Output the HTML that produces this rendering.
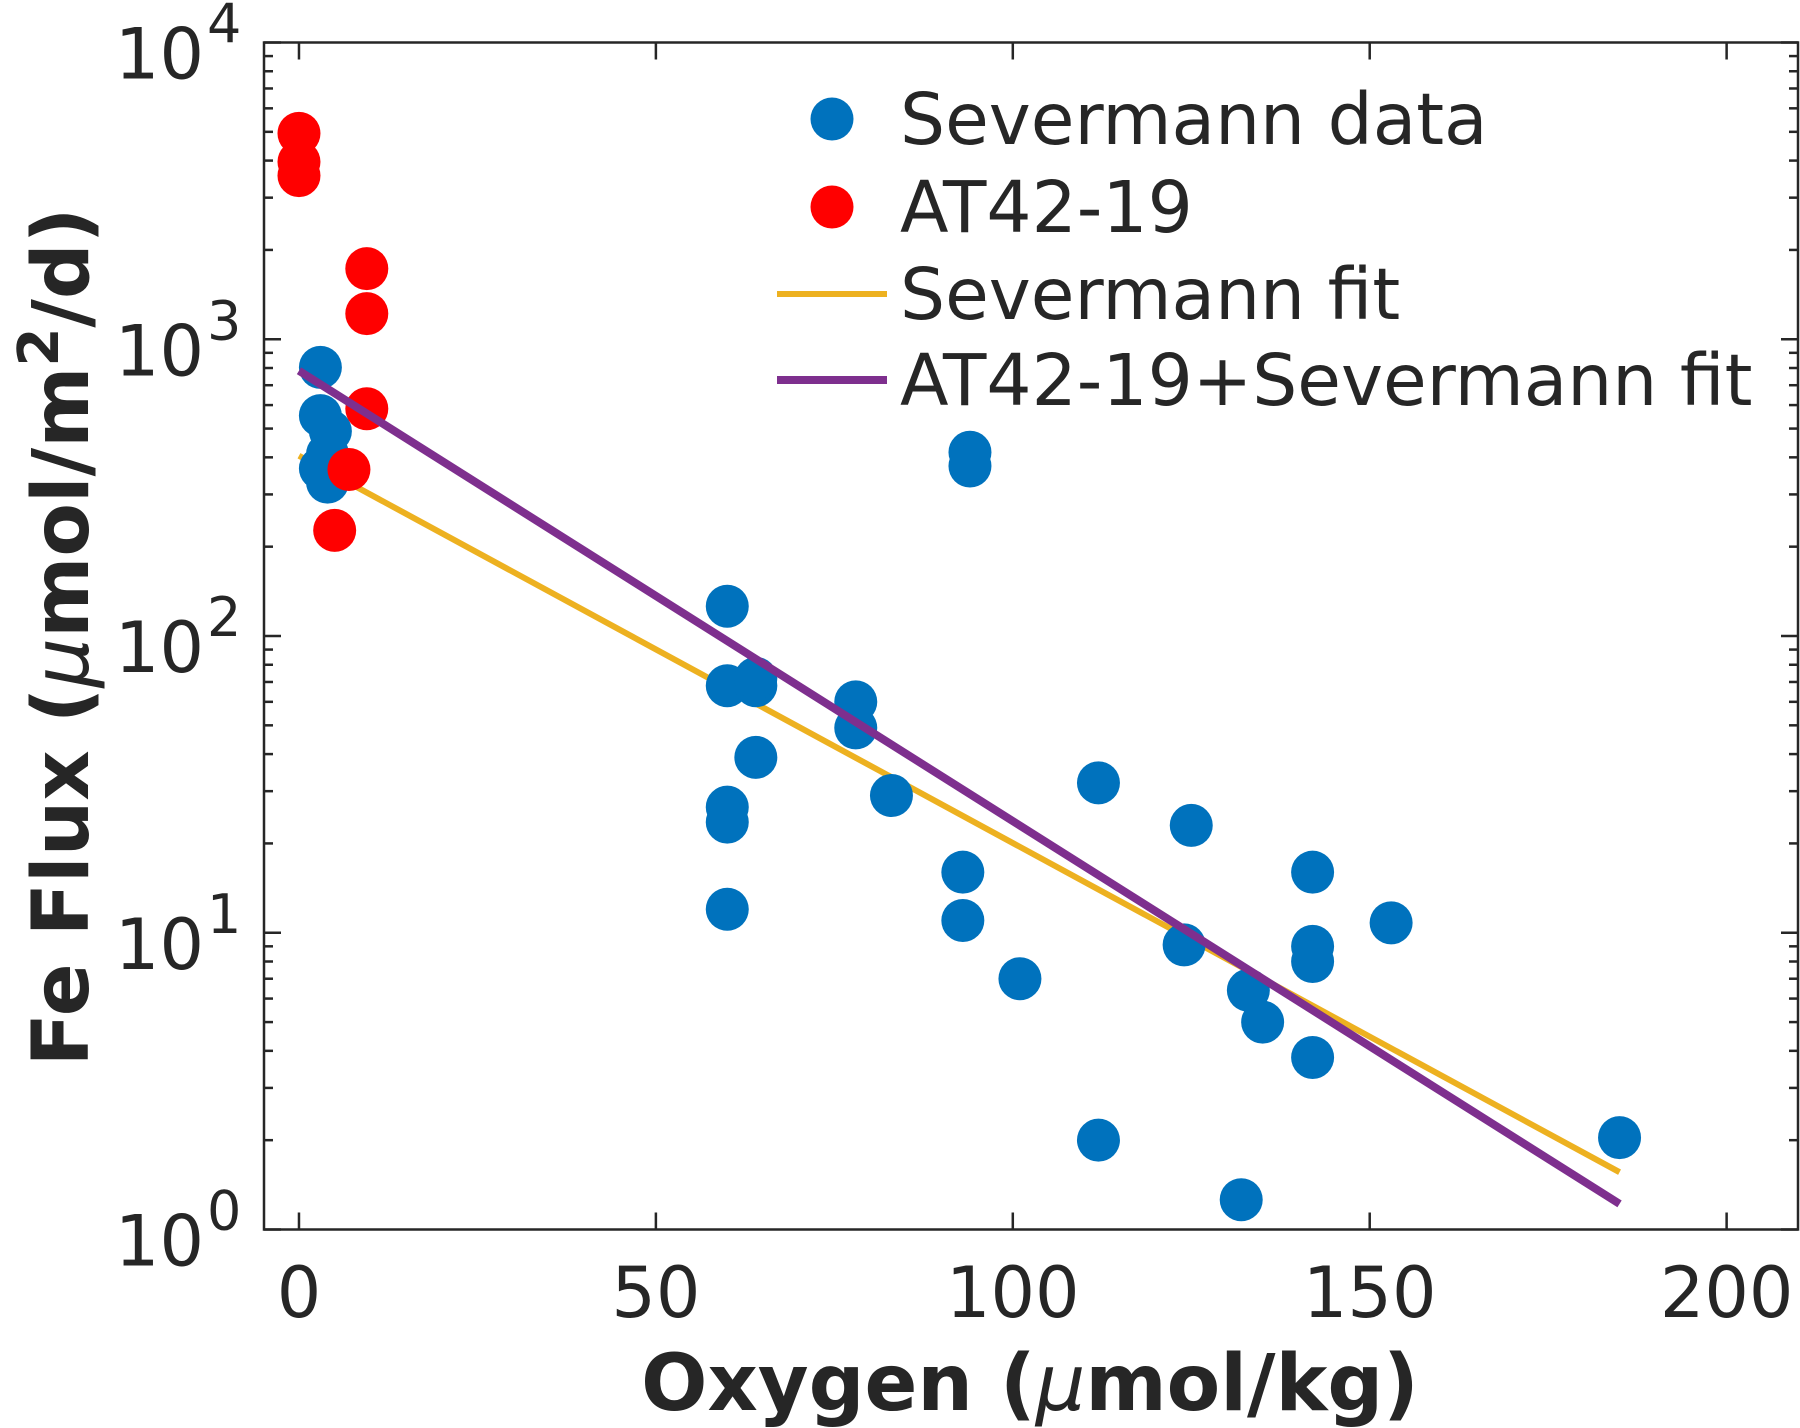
<!DOCTYPE html>
<html><head><meta charset="utf-8">
<style>
html,body{margin:0;padding:0;background:#fff;}
svg{display:block;}
text{font-family:"DejaVu Sans","Liberation Sans",sans-serif;fill:#262626;}
</style></head>
<body>
<svg id="chart" width="1800" height="1428" viewBox="0 0 1800 1428" xmlns="http://www.w3.org/2000/svg">
  <rect x="0" y="0" width="1800" height="1428" fill="#fff"/>
  <g id="plot"></g>
  <g id="axes"></g>
  <text x="1030" y="1410" text-anchor="middle" font-size="78" font-weight="bold">Oxygen (<tspan font-style="italic" font-weight="normal">μ</tspan>mol/kg)</text>
  <text transform="translate(88,637) rotate(-90)" text-anchor="middle" font-size="78" font-weight="bold">Fe Flux (<tspan font-style="italic" font-weight="normal">μ</tspan>mol/m<tspan font-size="56" dy="-30">2</tspan><tspan dy="30">/d)</tspan></text>
  <g id="legend"></g>
</svg>
<script>
const sevX = [3,3,4.4,3,4,4,60,60,64,64,64,60,60,60,78,78,83,93,93,94,94,101,112,112,125,124,133,135,132,142,142,142,142,153,185];
const sevY = [804,553,490,367,410,330,126,68,68,72,39,26.5,23.6,12,60,49,29,16,11,416,374,7,32,2.0,23,9.1,6.4,5.0,1.26,16,9,8,3.8,10.8,2.04];
const atX = [0,0,0,9.5,9.5,9.5,7,5];
const atY = [4940,3960,3560,1730,1220,583,364,227];
const sevFitX = [0,185];
const sevFitY = [405,1.56];
const allFitX = [0,185];
const allFitY = [783,1.22];
const xTicks = [0,50,100,150,200];
const yTickExps = [0,1,2,3,4];

const NS='http://www.w3.org/2000/svg';
const L=264,R=1798,T=42.5,B=1229.5;
const xMin=-4.9,xMax=210;
function xs(v){return L+(v-xMin)/(xMax-xMin)*(R-L);}
function ys(v){return B-(Math.log10(v)-0)/4*(B-T);}
function mk(tag,attrs,parent){const e=document.createElementNS(NS,tag);for(const k in attrs)e.setAttribute(k,attrs[k]);parent.appendChild(e);return e;}
const plot=document.getElementById('plot'),axes=document.getElementById('axes'),leg=document.getElementById('legend');

let l1=mk('line',{x1:xs(sevFitX[0]),y1:ys(sevFitY[0]),x2:xs(sevFitX[1]),y2:ys(sevFitY[1]),stroke:'#EDB120','stroke-width':6},plot);


for(let i=0;i<sevX.length;i++){
  const c=mk('ellipse',{cx:xs(sevX[i]),cy:ys(sevY[i]),rx:21.5,ry:21.5,fill:'#0072BD'},plot);
  
  
}
for(let i=0;i<atX.length;i++){
  const c=mk('ellipse',{cx:xs(atX[i]),cy:ys(atY[i]),rx:21.5,ry:21.5,fill:'#FF0000'},plot);
  
  
}
let l2=mk('line',{x1:xs(allFitX[0]),y1:ys(allFitY[0]),x2:xs(allFitX[1]),y2:ys(allFitY[1]),stroke:'#7E2F8E','stroke-width':8},plot);



let box=mk('rect',{x:L,y:T,width:R-L,height:B-T,fill:'none',stroke:'#262626','stroke-width':2.5},axes);


xTicks.forEach(v=>{
  const x=xs(v);
  mk('line',{x1:x,y1:B,x2:x,y2:B-17,stroke:'#262626','stroke-width':2.5},axes);
  mk('line',{x1:x,y1:T,x2:x,y2:T+17,stroke:'#262626','stroke-width':2.5},axes);
  const t=mk('text',{x:x,y:1317,'text-anchor':'middle','font-size':70},axes);
  t.textContent=v;
  
  
});
yTickExps.forEach(e=>{
  const y=ys(Math.pow(10,e));
  mk('line',{x1:L,y1:y,x2:L+17,y2:y,stroke:'#262626','stroke-width':2.5},axes);
  mk('line',{x1:R,y1:y,x2:R-17,y2:y,stroke:'#262626','stroke-width':2.5},axes);
  if(e<4){for(let m=2;m<=9;m++){const ym=ys(m*Math.pow(10,e));
    mk('line',{x1:L,y1:ym,x2:L+9,y2:ym,stroke:'#262626','stroke-width':2.5},axes);
    mk('line',{x1:R,y1:ym,x2:R-9,y2:ym,stroke:'#262626','stroke-width':2.5},axes);}}
  const t=mk('text',{x:204,y:y+36,'text-anchor':'end','font-size':70},axes);
  t.textContent='10';
  
  
  const s=mk('text',{x:207,y:y,'text-anchor':'start','font-size':54},axes);
  s.textContent=String(e);
  
  
});
const legLabels=['Severmann data','AT42-19','Severmann fit','AT42-19+Severmann fit'];
const legY=[119,207,294,380];
legLabels.forEach((lab,i)=>{
  const y=legY[i];
  if(i<2){
    const c=mk('circle',{cx:832,cy:y,r:21.5,fill:i==0?'#0072BD':'#FF0000'},leg);
    
    
  } else {
    const ln=mk('line',{x1:777,y1:y,x2:887,y2:y,stroke:i==2?'#EDB120':'#7E2F8E','stroke-width':i==2?6:8},leg);
    
    
  }
  const t=mk('text',{x:900,y:y+25,'font-size':71,fill:'#000'},leg);
  t.textContent=lab;
  
  
});
</script>
</body></html>
